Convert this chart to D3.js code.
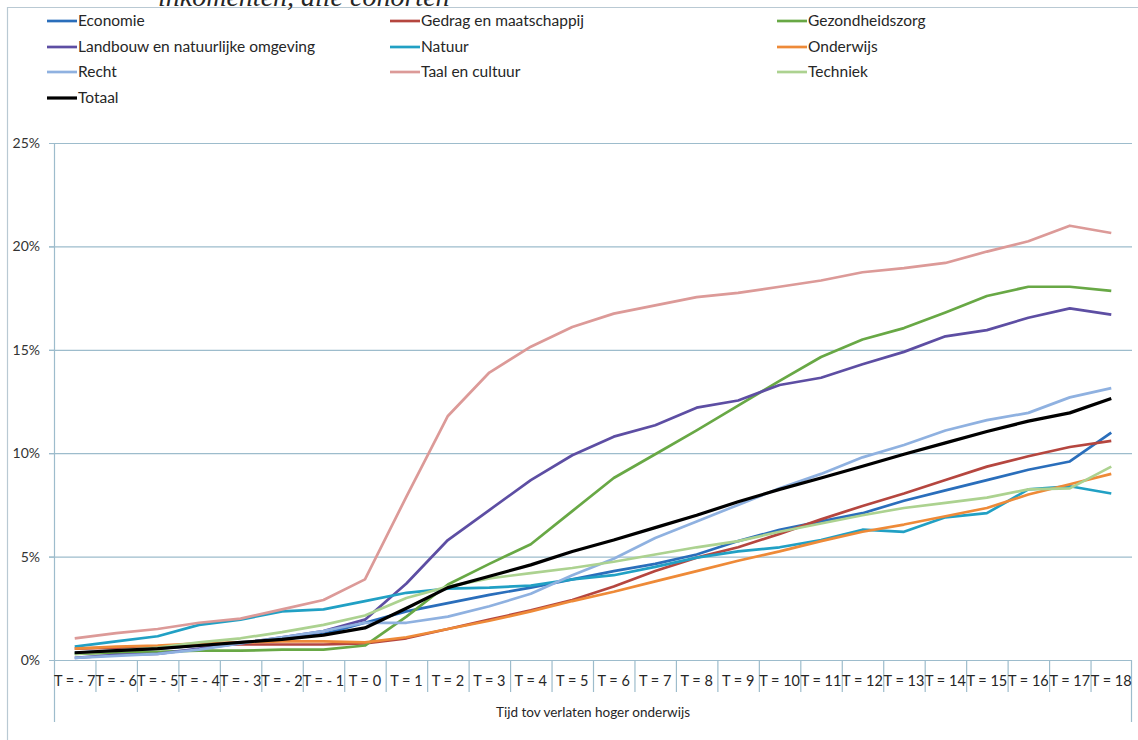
<!DOCTYPE html>
<html>
<head>
<meta charset="utf-8">
<script src="https://cdn.jsdelivr.net/npm/d3@7/dist/d3.min.js"></script>
<style>
  body { margin: 0; background: #fff; }
  text { font-family: Lato, "Open Sans", sans-serif; fill: #262626; }
</style>
</head>
<body>
<svg id="chart" width="1138" height="740"></svg>
<script>
// categories: years relative to leaving higher education
let periods = [-7, -6, -5, -4, -3, -2, -1, 0, 1, 2, 3, 4, 5, 6, 7, 8, 9, 10, 11, 12, 13, 14, 15, 16, 17, 18];
let periodLabels = periods.map(t => t < 0 ? "T = - " + (-t) : "T = " + t);

// values in percent
let economie = [0.35, 0.45, 0.55, 0.7, 0.85, 1.0, 1.25, 1.8, 2.35, 2.75, 3.15, 3.5, 3.9, 4.3, 4.65, 5.1, 5.75, 6.3, 6.7, 7.1, 7.7, 8.2, 8.7, 9.2, 9.6, 11.0];
let gedrag = [0.55, 0.6, 0.65, 0.7, 0.75, 0.75, 0.75, 0.8, 1.05, 1.5, 1.95, 2.4, 2.9, 3.55, 4.3, 4.95, 5.45, 6.1, 6.8, 7.45, 8.05, 8.7, 9.35, 9.85, 10.3, 10.6];
let gezondheidszorg = [0.3, 0.35, 0.4, 0.45, 0.45, 0.5, 0.5, 0.7, 2.1, 3.65, 4.65, 5.6, 7.2, 8.8, 9.95, 11.1, 12.3, 13.5, 14.65, 15.5, 16.05, 16.8, 17.6, 18.05, 18.05, 17.85];
let landbouw = [0.1, 0.25, 0.3, 0.55, 0.8, 1.1, 1.4, 1.95, 3.7, 5.8, 7.25, 8.7, 9.9, 10.8, 11.35, 12.2, 12.55, 13.3, 13.65, 14.3, 14.9, 15.65, 15.95, 16.55, 17.0, 16.7];
let natuur = [0.65, 0.9, 1.15, 1.7, 1.95, 2.35, 2.45, 2.85, 3.25, 3.45, 3.5, 3.6, 3.9, 4.1, 4.5, 4.95, 5.25, 5.45, 5.8, 6.3, 6.2, 6.9, 7.1, 8.25, 8.4, 8.05];
let onderwijs = [0.55, 0.65, 0.7, 0.8, 0.85, 0.9, 0.9, 0.85, 1.1, 1.5, 1.9, 2.35, 2.85, 3.3, 3.8, 4.3, 4.8, 5.25, 5.75, 6.2, 6.55, 6.95, 7.35, 8.0, 8.5, 9.0];
let recht = [0.1, 0.2, 0.3, 0.5, 0.8, 1.1, 1.4, 1.8, 1.8, 2.1, 2.6, 3.2, 4.1, 4.9, 5.9, 6.7, 7.5, 8.3, 9.0, 9.8, 10.4, 11.1, 11.6, 11.95, 12.7, 13.15];
let taal = [1.05, 1.3, 1.5, 1.8, 2.0, 2.45, 2.9, 3.9, 7.9, 11.8, 13.9, 15.15, 16.1, 16.75, 17.15, 17.55, 17.75, 18.05, 18.35, 18.75, 18.95, 19.2, 19.75, 20.25, 21.0, 20.65];
let techniek = [0.3, 0.45, 0.6, 0.85, 1.05, 1.35, 1.7, 2.15, 3.0, 3.55, 3.95, 4.2, 4.45, 4.75, 5.1, 5.45, 5.75, 6.2, 6.6, 7.0, 7.35, 7.6, 7.85, 8.25, 8.3, 9.35];
let totaal = [0.35, 0.45, 0.55, 0.7, 0.85, 1.0, 1.2, 1.55, 2.5, 3.5, 4.05, 4.6, 5.25, 5.8, 6.4, 7.0, 7.65, 8.25, 8.8, 9.37, 9.95, 10.5, 11.05, 11.55, 11.95, 12.65];

let yTicks = [0, 5, 10, 15, 20, 25];
let axisTitle = "Tijd tov verlaten hoger onderwijs";

let series = [
    { name: "Economie", values: economie, color: "#2a6ebb" },
    { name: "Gedrag en maatschappij", values: gedrag, color: "#b5463f" },
    { name: "Gezondheidszorg", values: gezondheidszorg, color: "#68a845" },
    { name: "Landbouw en natuurlijke omgeving", values: landbouw, color: "#5d4ea3" },
    { name: "Natuur", values: natuur, color: "#21a0c4" },
    { name: "Onderwijs", values: onderwijs, color: "#ee8a38" },
    { name: "Recht", values: recht, color: "#8fb1e0" },
    { name: "Taal en cultuur", values: taal, color: "#dc9a98" },
    { name: "Techniek", values: techniek, color: "#acd290" },
    { name: "Totaal", values: totaal, color: "#000000" }
];

function getChartConfig() {
    let margin = { top: 143, right: 6, bottom: 80, left: 54 },
        width = 1138 - margin.left - margin.right,
        height = 740 - margin.top - margin.bottom;
    let svg = d3.select("#chart");
    let container = svg.append("g")
        .attr("transform", "translate(" + margin.left + "," + margin.top + ")");
    return { svg, container, width, height, margin };
}

function getScales(config) {
    let { width, height } = config;
    let xScale = d3.scaleBand()
        .domain(periodLabels)
        .range([0, width]);
    let yScale = d3.scaleLinear()
        .domain([0, 25])
        .range([height, 0]);
    return { xScale, yScale };
}

function drawFrame(config) {
    let { svg } = config;
    // outer chart border (only left and top are visible in the picture)
    svg.append("path")
        .attr("d", "M7.5,740 V7.5 H1138")
        .attr("fill", "none")
        .attr("stroke", "#b9c9d3")
        .attr("stroke-width", 1.2);
    // caption of the figure, cut off by the top edge like in the source
    svg.append("text")
        .attr("x", 158)
        .attr("y", 6)
        .style("font-family", "'Liberation Serif', serif")
        .style("font-style", "italic")
        .style("font-size", "28px")
        .text("inkomenten, alle cohorten");
}

function drawAxes(config, scales) {
    let { container, width, height } = config;
    let { xScale, yScale } = scales;
    let axisColor = "#9dbccc";

    // grid lines
    container.append("g")
        .selectAll("line")
        .data(yTicks.filter(d => d > 0))
        .enter()
        .append("line")
        .attr("x1", -5)
        .attr("x2", width)
        .attr("y1", d => yScale(d) + 0.5)
        .attr("y2", d => yScale(d) + 0.5)
        .style("stroke", axisColor)
        .style("stroke-width", 1.2);

    // y axis
    let yAxis = d3.axisLeft(yScale)
        .tickValues(yTicks)
        .tickSize(5)
        .tickFormat(d => d + "%");
    let yg = container.append("g")
        .attr("class", "y axis")
        .call(yAxis);
    yg.select(".domain").remove();
    yg.selectAll("line").style("stroke", axisColor);
    yg.selectAll("text")
        .attr("x", -14)
        .style("font-size", "14px")
        .style("fill", "#333");

    container.append("line")
        .attr("x1", 0.5).attr("x2", 0.5)
        .attr("y1", 0).attr("y2", height + 62)
        .style("stroke", axisColor)
        .style("stroke-width", 1.2);

    // x axis line
    container.append("line")
        .attr("x1", 0).attr("x2", width)
        .attr("y1", height + 0.5).attr("y2", height + 0.5)
        .style("stroke", axisColor)
        .style("stroke-width", 1.2);

    // category boundary ticks
    container.append("g")
        .selectAll("line")
        .data(periodLabels.slice(1))
        .enter()
        .append("line")
        .attr("x1", d => xScale(d) + 0.5)
        .attr("x2", d => xScale(d) + 0.5)
        .attr("y1", height)
        .attr("y2", height + 32)
        .style("stroke", axisColor)
        .style("stroke-width", 1.2);

    container.append("line")
        .attr("x1", width - 0.5).attr("x2", width - 0.5)
        .attr("y1", height).attr("y2", height + 62)
        .style("stroke", axisColor)
        .style("stroke-width", 1.2);

    // category labels
    container.append("g")
        .selectAll("text")
        .data(periodLabels)
        .enter()
        .append("text")
        .attr("x", d => xScale(d) + xScale.bandwidth() / 2)
        .attr("y", height + 26)
        .attr("text-anchor", "middle")
        .style("font-size", "14.5px")
        .text(d => d);

    container.append("text")
        .attr("x", width / 2)
        .attr("y", height + 57)
        .attr("text-anchor", "middle")
        .style("font-size", "13.5px")
        .text(axisTitle);
}

function drawLines(config, scales) {
    let { container } = config;
    let { xScale, yScale } = scales;

    let line = d3.line()
        .x((d, i) => xScale(periodLabels[i]) + xScale.bandwidth() / 2)
        .y(d => yScale(d));

    container.selectAll(".series")
        .data(series)
        .enter()
        .append("path")
        .attr("class", "series")
        .attr("d", d => line(d.values))
        .attr("fill", "none")
        .attr("stroke", d => d.color)
        .attr("stroke-width", d => d.name == "Totaal" ? 3.2 : 2.7)
        .attr("stroke-linejoin", "round");
}

function drawLegend(config) {
    let { svg } = config;
    let colX = [47, 390, 777];
    let rowY = [21, 47, 72, 98];

    let items = svg.selectAll(".legendItem")
        .data(series)
        .enter()
        .append("g")
        .attr("class", "legendItem")
        .attr("transform", (d, i) => "translate(" + colX[i % 3] + "," + rowY[Math.floor(i / 3)] + ")");

    items.append("line")
        .attr("x1", 0).attr("x2", 30)
        .attr("y1", 0).attr("y2", 0)
        .attr("stroke", d => d.color)
        .attr("stroke-width", d => d.name == "Totaal" ? 3.2 : 2.7);

    items.append("text")
        .attr("x", 31)
        .attr("y", 5)
        .style("font-size", "15.5px")
        .text(d => d.name);
}

function drawChart() {
    let config = getChartConfig();
    let scales = getScales(config);
    drawFrame(config);
    drawAxes(config, scales);
    drawLines(config, scales);
    drawLegend(config);
}

drawChart();
</script>
</body>
</html>
